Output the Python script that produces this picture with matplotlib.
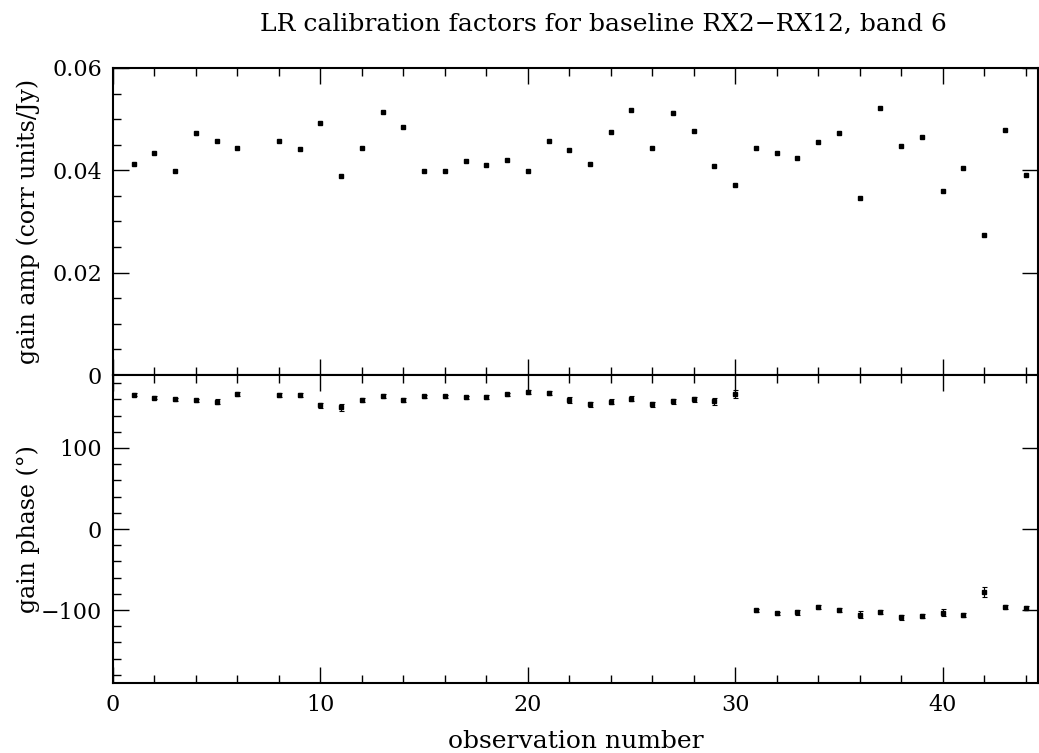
import matplotlib
matplotlib.use("Agg")
import matplotlib.pyplot as plt
from matplotlib.ticker import MultipleLocator, FixedLocator

obs = [1, 2, 3, 4, 5, 6, 8, 9, 10, 11, 12, 13, 14, 15, 16, 17, 18, 19, 20, 21, 22,
       23, 24, 25, 26, 27, 28, 29, 30, 31, 32, 33, 34, 35, 36, 37, 38, 39, 40, 41,
       42, 43, 44]

amp = [0.0412, 0.0434, 0.0398, 0.0472, 0.0458, 0.0444, 0.0457, 0.0442, 0.0493,
       0.0388, 0.0444, 0.0514, 0.0484, 0.0398, 0.0398, 0.0419, 0.0411, 0.0421,
       0.0398, 0.0457, 0.0439, 0.0412, 0.0474, 0.0518, 0.0443, 0.0513, 0.0477,
       0.0409, 0.0371, 0.0444, 0.0433, 0.0424, 0.0456, 0.0473, 0.0345, 0.0522,
       0.0448, 0.0466, 0.0359, 0.0405, 0.0273, 0.0478, 0.0390]
amp_err = [0.0002] * len(obs)

phase = [165.6, 161.9, 159.8, 158.6, 156.9, 166.8, 165.2, 164.8, 152.4, 150.3,
         159.4, 164.0, 158.6, 163.6, 163.6, 162.3, 163.0, 166.0, 169.0, 167.7,
         159.4, 154.0, 156.9, 161.0, 154.0, 157.8, 160.2, 157.4, 166.5, -100.2,
         -104.0, -102.7, -95.7, -99.8, -105.6, -102.3, -108.9, -107.7, -103.1,
         -105.6, -77.9, -96.5, -97.3]
phase_err = [2, 2, 2, 2, 3, 2.5, 2, 2.5, 3.5, 4.5, 2.5, 2.5, 2.5, 2, 2, 2, 2, 2,
             2, 2, 4, 3, 3, 2.5, 3, 3, 3, 4, 4.5, 2, 2, 3, 2.5, 2.5, 4, 2.5, 3,
             2.5, 4, 2.5, 6, 2.5, 2.5]

title = "LR calibration factors for baseline RX2\u2212RX12, band 6"

plt.rcParams['font.family'] = ['DejaVu Serif']
plt.rcParams['axes.unicode_minus'] = True

W, H = 1039, 753
fig = plt.figure(figsize=(W / 100, H / 100), dpi=100)

left = 113 / W
right = 1038 / W
top_y = 1 - 68 / H
mid_y = 1 - 375 / H
bot_y = 1 - 683 / H

ax1 = fig.add_axes([left, mid_y, right - left, top_y - mid_y])
ax2 = fig.add_axes([left, bot_y, right - left, mid_y - bot_y], sharex=ax1)

FS = 16
for ax in (ax1, ax2):
    for s in ax.spines.values():
        s.set_linewidth(1.5)
    ax.tick_params(which='both', direction='in', top=True, right=True,
                   width=1.0, labelsize=FS, color='black')
    ax.tick_params(which='major', length=11.5, pad=8)
    ax.tick_params(which='minor', length=5.8, right=False)
    ax.xaxis.set_major_locator(MultipleLocator(10))
    ax.xaxis.set_minor_locator(MultipleLocator(2))

ax1.errorbar(obs, amp, yerr=amp_err, fmt='s', color='black', ms=3,
             elinewidth=0.8, capsize=1.5, capthick=0.8)
ax2.errorbar(obs, phase, yerr=phase_err, fmt='s', color='black', ms=3,
             elinewidth=0.8, capsize=1.8, capthick=0.8)

ax1.set_xlim(0, 44.6)
ax1.set_ylim(0, 0.06)
ax1.yaxis.set_major_locator(FixedLocator([0, 0.02, 0.04, 0.06]))
ax1.yaxis.set_minor_locator(MultipleLocator(0.005))
ax1.set_yticklabels(['0', '0.02', '0.04', '0.06'])
ax1.tick_params(axis='x', labelbottom=False)

ax2.set_ylim(-190, 190)
ax2.yaxis.set_major_locator(FixedLocator([-100, 0, 100]))
ax2.yaxis.set_minor_locator(MultipleLocator(20))

ax1.set_ylabel("gain amp (corr units/Jy)", fontsize=17)
ax2.set_ylabel("gain phase (°)", fontsize=17)
ax1.yaxis.set_label_coords(-0.079, 0.5)
ax2.yaxis.set_label_coords(-0.079, 0.5)

ax2.set_xlabel("observation number", fontsize=18)
ax2.xaxis.set_label_coords(0.5, -(748 - 683) / 308)
ax2.xaxis.label.set_verticalalignment('baseline')

fig.text(603 / W, 1 - 31 / H, title, ha='center', va='baseline', fontsize=18)

fig.savefig("out.png", dpi=100)
